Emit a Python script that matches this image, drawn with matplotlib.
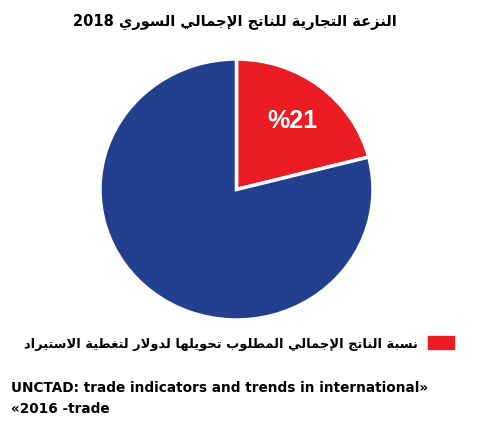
import matplotlib
matplotlib.use("Agg")
import matplotlib.pyplot as plt
from matplotlib.patches import Patch

# data
title = "النزعة التجارية للناتج الإجمالي السوري 2018"
legend_label = "نسبة الناتج الإجمالي المطلوب تحويلها لدولار لتغطية الاستيراد"
values = [21, 79]
colors = ["#ec1c24", "#23408e"]
source_lines = ["UNCTAD: trade indicators and trends in international»", "«2016 -trade"]

# minimal arabic shaping (matplotlib has no bidi / joining)
FORMS = {
    'ا': (0xFE8D, 2), 'أ': (0xFE83, 2), 'إ': (0xFE87, 2), 'آ': (0xFE81, 2),
    'ب': (0xFE8F, 4), 'ة': (0xFE93, 2), 'ت': (0xFE95, 4), 'ث': (0xFE99, 4),
    'ج': (0xFE9D, 4), 'ح': (0xFEA1, 4), 'خ': (0xFEA5, 4), 'د': (0xFEA9, 2),
    'ذ': (0xFEAB, 2), 'ر': (0xFEAD, 2), 'ز': (0xFEAF, 2), 'س': (0xFEB1, 4),
    'ش': (0xFEB5, 4), 'ص': (0xFEB9, 4), 'ض': (0xFEBD, 4), 'ط': (0xFEC1, 4),
    'ظ': (0xFEC5, 4), 'ع': (0xFEC9, 4), 'غ': (0xFECD, 4), 'ف': (0xFED1, 4),
    'ق': (0xFED5, 4), 'ك': (0xFED9, 4), 'ل': (0xFEDD, 4), 'م': (0xFEE1, 4),
    'ن': (0xFEE5, 4), 'ه': (0xFEE9, 4), 'و': (0xFEED, 2), 'ي': (0xFEF1, 4),
    'ى': (0xFEEF, 2),
}
LAM_ALEF = {'ا': 0xFEFB, 'إ': 0xFEF9, 'أ': 0xFEF7, 'آ': 0xFEF5}


def shape_word(w):
    units = []
    i = 0
    while i < len(w):
        if w[i] == 'ل' and i + 1 < len(w) and w[i + 1] in LAM_ALEF:
            units.append(('la', w[i + 1]))
            i += 2
        else:
            units.append(('c', w[i]))
            i += 1
    out = []
    for j, (kind, c) in enumerate(units):
        prev = units[j - 1] if j > 0 else None
        nxt = units[j + 1] if j + 1 < len(units) else None
        joins_prev = prev is not None and prev[0] == 'c' and FORMS.get(prev[1], (0, 0))[1] == 4
        if kind == 'la':
            out.append(chr(LAM_ALEF[c] + (1 if joins_prev else 0)))
            continue
        base, n = FORMS[c]
        joins_next = n == 4 and nxt is not None and (nxt[0] == 'la' or nxt[1] in FORMS)
        if joins_prev and joins_next:
            f = 3
        elif joins_prev:
            f = 1
        elif joins_next:
            f = 2
        else:
            f = 0
        out.append(chr(base + f))
    return ''.join(reversed(out))


def rtl(text):
    words = text.split(' ')
    shaped = [shape_word(w) if any('\u0600' <= ch <= '\u06ff' for ch in w) else w for w in words]
    return ' '.join(reversed(shaped))


W, H = 490, 427
fig = plt.figure(figsize=(W / 100, H / 100), dpi=100)

# pie box in pixels: x 100..373, y 60..321
ax = fig.add_axes([100 / W, (H - 321) / H, 273 / W, 261 / H])
ax.pie(values, startangle=90, counterclock=False, colors=colors,
       wedgeprops=dict(edgecolor='white', linewidth=2.5),
       autopct=lambda p: '%' + f'{p:.0f}' if p < 50 else '', pctdistance=0.67,
       textprops=dict(color='white', fontsize=18, fontweight='bold', family='Liberation Sans'))
ax.set_aspect('auto')
ax.set_xlim(-1, 1)
ax.set_ylim(-1, 1)
ax.axis('off')

fig.text(235 / W, 1 - 22 / H, rtl(title), ha='center', va='center',
         fontsize=10.5, fontweight='bold', family='DejaVu Sans')

fig.legend(handles=[Patch(color=colors[0])], labels=[rtl(legend_label)],
           loc='center right', bbox_to_anchor=(454 / W, 1 - 344 / H),
           markerfirst=False, frameon=False, handlelength=2.0, handleheight=1.1,
           handletextpad=0.8, borderaxespad=0, borderpad=0,
           prop=dict(family='DejaVu Sans', weight='bold', size=9.4))

fig.text(11 / W, 1 - 388 / H, source_lines[0], ha='left', va='center',
         fontsize=9.8, fontweight='bold', family='DejaVu Sans')
fig.text(11 / W, 1 - 409 / H, source_lines[1], ha='left', va='center',
         fontsize=9.8, fontweight='bold', family='DejaVu Sans')

fig.savefig("out.png", dpi=100)
